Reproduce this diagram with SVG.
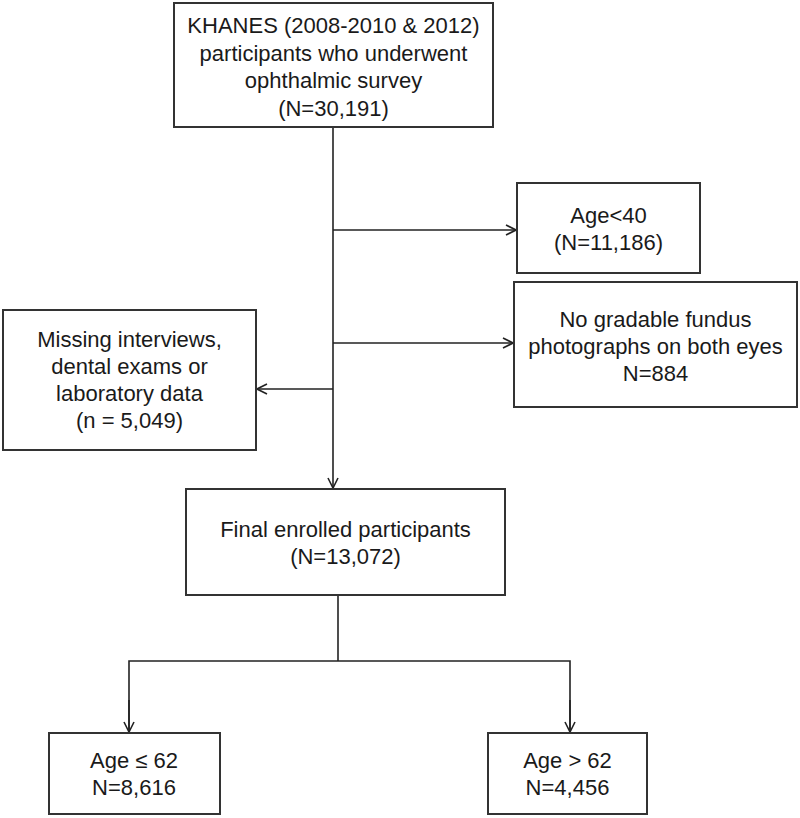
<svg xmlns="http://www.w3.org/2000/svg" width="800" height="818" viewBox="0 0 800 818">
<style>
.box{fill:#fff;stroke:#333;stroke-width:2}
.t{font-family:"Liberation Sans",Arial,sans-serif;font-size:22px;fill:#1a1a1a;text-anchor:middle}
.c{fill:none;stroke:#222;stroke-width:1.6}
</style>
<defs>
<marker id="ah" viewBox="0 0 12 12" refX="11" refY="6" markerWidth="12" markerHeight="12" markerUnits="userSpaceOnUse" orient="auto">
<path d="M1,1 L11,6 L1,11" fill="none" stroke="#222" stroke-width="1.6"/>
</marker>
</defs>
<rect width="800" height="818" fill="#fff"/>
<g id="connectors">
<line class="c" x1="333" y1="127" x2="333" y2="488" marker-end="url(#ah)"/>
<line class="c" x1="333" y1="230" x2="516" y2="230" marker-end="url(#ah)"/>
<line class="c" x1="333" y1="343" x2="513" y2="343" marker-end="url(#ah)"/>
<line class="c" x1="333" y1="389" x2="257" y2="389" marker-end="url(#ah)"/>
<line class="c" x1="338" y1="595" x2="338" y2="661"/>
<polyline class="c" points="129,732 129,661 570,661 570,732"/>
<line class="c" x1="129" y1="700" x2="129" y2="732" marker-end="url(#ah)"/>
<line class="c" x1="570" y1="700" x2="570" y2="732" marker-end="url(#ah)"/>
</g>
<g id="n-khanes">
<rect class="box" x="174" y="3" width="319" height="124"/>
<text class="t" x="333.5" y="33">KHANES (2008-2010 &amp; 2012)</text>
<text class="t" x="333.5" y="60.5">participants who underwent</text>
<text class="t" x="333.5" y="88">ophthalmic survey</text>
<text class="t" x="333.5" y="115.5">(N=30,191)</text>
</g>
<g id="n-age40">
<rect class="box" x="517" y="183" width="183" height="90"/>
<text class="t" x="608.5" y="223">Age&lt;40</text>
<text class="t" x="608.5" y="250">(N=11,186)</text>
</g>
<g id="n-fundus">
<rect class="box" x="514" y="282" width="283" height="125"/>
<text class="t" x="655.5" y="327">No gradable fundus</text>
<text class="t" x="655.5" y="354">photographs on both eyes</text>
<text class="t" x="655.5" y="381">N=884</text>
</g>
<g id="n-missing">
<rect class="box" x="3" y="310" width="253" height="140"/>
<text class="t" x="129.5" y="347">Missing interviews,</text>
<text class="t" x="129.5" y="374">dental exams or</text>
<text class="t" x="129.5" y="401">laboratory data</text>
<text class="t" x="129.5" y="428">(n = 5,049)</text>
</g>
<g id="n-final">
<rect class="box" x="186" y="489" width="319" height="106"/>
<text class="t" x="345.5" y="537">Final enrolled participants</text>
<text class="t" x="345.5" y="564">(N=13,072)</text>
</g>
<g id="n-young">
<rect class="box" x="49" y="733" width="171" height="81"/>
<text class="t" x="134" y="768">Age ≤ 62</text>
<text class="t" x="134" y="795">N=8,616</text>
</g>
<g id="n-old">
<rect class="box" x="488" y="733" width="159" height="81"/>
<text class="t" x="567.5" y="768">Age &gt; 62</text>
<text class="t" x="567.5" y="795">N=4,456</text>
</g>
</svg>
